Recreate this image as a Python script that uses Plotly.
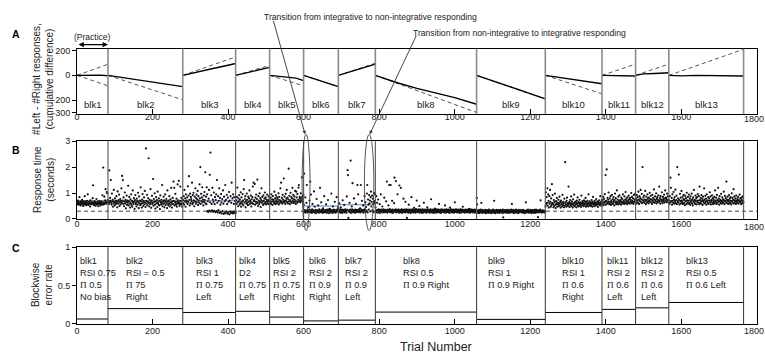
import numpy as np
import plotly.graph_objects as go

# ---------------- data ----------------
block_names = ["blk1", "blk2", "blk3", "blk4", "blk5", "blk6", "blk7",
               "blk8", "blk9", "blk10", "blk11", "blk12", "blk13"]
block_edges = [0, 82, 280, 420, 510, 600, 692, 790, 1058, 1240, 1390, 1479, 1567, 1765]
x_ticks = [0, 200, 400, 600, 800, 1000, 1200, 1400, 1600, 1800]

# Panel A: cumulative (#Left - #Right) within each block
cum_x = [[0, 20, 40, 60, 82], [82, 130, 180, 230, 280], [280, 320, 360, 400, 420],
         [420, 450, 480, 510], [510, 540, 560, 580, 600], [600, 630, 660, 692],
         [692, 740, 790], [790, 850, 900, 960, 1000, 1058], [1058, 1150, 1240],
         [1240, 1300, 1350, 1390], [1390, 1430, 1479], [1479, 1500, 1530, 1567],
         [1567, 1600, 1640, 1680, 1720, 1765]]
cum_y = [[0, 2, 3, 2, -3], [0, -22, -48, -72, -91], [0, 25, 55, 82, 96],
         [0, 22, 42, 64], [0, -8, -12, -22, -43], [0, -30, -62, -91],
         [0, 45, 91], [0, -62, -105, -150, -180, -234], [0, -95, -190],
         [0, -28, -48, -68], [0, -3, -5], [0, 12, 15, 21],
         [0, -4, 0, -3, -2, -5]]
# dashed reference lines: end value of each (start at 0)
ideal_end = [[90, -85], [-198], [149], [80], [-85], [-92], [98], [-300],
             [-190], [-149], [91], [91], [211]]

# Panel B: response times (centiseconds) per block
rt_blk1 = [62,58,71,55,66,60,84,57,63,52,68,59,61,74,56,64,50,69,58,63,88,55,60,67,53,62,70,57,95,61,
           54,66,59,63,48,72,58,61,56,65,60,80,130,57,62,53,68,59,64,51,60,77,58,63,55,66,49,61,59,70,
           56,62,52,64,58,67,60,91,55,198,63,57,86,61,72,115,66,59,104,62,99,73]
rt_blk2 = [72,65,58,187,66,81,70,150,62,55,98,68,74,47,60,112,66,52,79,63,
           57,70,88,61,45,106,68,59,73,94,50,64,77,56,69,118,62,166,71,150,
           58,83,49,67,102,60,74,41,66,90,55,71,63,128,52,68,85,59,44,76,
           61,95,53,70,47,110,64,58,80,66,39,73,92,57,62,48,78,69,55,101,
           65,42,87,60,71,53,122,58,67,44,75,96,61,50,69,83,56,108,63,46,
           272,70,59,93,52,66,80,234,61,48,74,57,115,64,43,71,89,58,62,154,
           51,77,66,99,55,40,68,84,60,73,46,105,63,57,79,52,70,38,91,65,
           56,74,61,131,49,67,58,86,72,45,63,95,54,69,77,60,42,110,66,53,
           71,59,88,48,64,76,55,120,62,44,68,81,57,144,70,120,52,65,97,61,
           54,78,47,66,133,59,72,147,63,50,58,125,69,56,81,60,47,73]
rt_blk3 = [73,60,88,55,112,68,79,47,95,64,71,83,58,126,66,90,165,74,52,98,
           61,85,77,69,140,57,92,63,101,72,49,86,67,118,59,80,94,65,76,108,
           54,88,71,62,133,79,200,58,97,69,83,122,64,75,52,90,66,104,73,180,
           60,86,57,122,95,30,68,27,78,112,32,170,64,256,29,91,58,33,120,75,
           28,66,102,31,57,84,26,73,95,30,150,62,25,88,34,70,118,23,81,55,
           27,96,64,21,77,30,110,59,19,86,24,68,131,22,74,28,93,57,20,82,
           25,66,104,18,71,29,88,23,62,140,26,79,21,95,27,58,84,22,69,30]
rt_blk4 = [24,72,58,85,121,64,49,79,68,92,55,74,61,103,47,83,66,58,96,71,
           52,115,150,63,77,88,45,69,59,98,74,62,53,86,67,79,110,57,71,64,
           90,48,76,61,84,125,58,140,69,73,135,55,82,66,94,60,77,152,63,50,
           88,71,57,99,65,80,46,73,118,62,85,68,54,91,70,59,78,102,64,83,
           56,75,67,94,61,72,58,87,69,76]
rt_blk5 = [71,63,82,58,95,67,76,54,88,69,74,61,105,66,79,57,91,72,64,83,
           60,77,68,99,56,85,73,62,118,70,140,65,81,59,93,74,67,156,63,86,
           71,58,97,69,78,112,64,82,60,75,194,68,89,57,73,101,66,84,62,79,
           120,70,93,61,76,87,65,108,72,58,105,83,67,96,63,74,121,131,69,85,
           78,64,99,71,82,160,75,88,66,92]
rt_blk6 = [55,175,27,34,83,24,31,62,131,29,36,25,45,32,28,71,35,144,26,94,
           30,23,37,58,27,33,29,106,25,47,31,35,22,30,77,28,34,26,52,32,
           24,37,29,120,31,26,64,35,28,33,23,41,36,27,88,30,25,34,29,56,
           33,24,36,28,73,31,22,35,39,27,37,25,32,98,29,34,23,48,31,26,
           36,28,66,33,24,31,27,84,35,29,38,45]
rt_blk7 = [34,26,60,29,37,24,45,31,27,36,23,72,33,28,35,54,25,30,37,27,
           32,24,87,35,188,169,4,29,33,62,26,36,225,23,31,48,37,138,27,34,
           25,79,32,28,36,24,58,30,35,27,131,33,95,26,37,29,34,41,25,131,
           31,36,70,28,33,52,24,35,30,88,37,64,27,46,32,98,131,25,75,55,
           36,92,60,71,29,84,105,48,66,90,33,78,58,26,100,62,69,95]
rt_blk8 = [45,33,88,26,62,35,24,75,31,37,28,57,23,34,95,30,36,27,48,32,
           25,37,29,82,33,26,35,28,68,31,144,24,36,29,52,34,131,27,38,30,
           131,25,33,28,70,36,23,31,29,61,159,34,27,37,146,25,32,29,95,35,
           28,36,24,129,31,34,26,120,30,37,23,33,29,35,78,27,32,36,25,66,
           33,29,37,4,26,34,30,24,55,36,28,32,35,23,31,84,27,37,29,33,
           25,36,43,30,27,34,24,38,31,71,28,35,26,33,29,37,50,24,32,30,
           36,27,34,23,31,37,28,25,62,33,30,36,26,29,35,24,32,45,37,28,
           31,26,35,33,24,30,37,76,28,34,25,32,36,29,23,33,30,40,27,35,
           24,31,37,28,34,26,30,36,58,25,33,29,35,23,31,37,27,32,35,30,
           28,34,25,36,52,32,24,30,37,27,33,29,35,26,31,36,23,44,34,30,
           37,27,31,25,35,32,28,36,24,30,64,33,27,37,29,34,25,31,36,28,
           33,26,35,23,30,37,29,32,25,36,28,47,31,34,27,35,24,30,33,29,
           36,31,25,34,28,32,37,26,30,39,24,35,29,33,27,36,31,25,30,34,
           28,32,36,24,31,27,35,30]
rt_blk9 = [81,56,29,24,34,27,22,33,30,25,36,28,62,31,23,35,27,26,33,29,
           24,32,27,35,22,30,28,34,25,31,29,23,36,30,26,33,28,31,22,29,
           25,34,27,30,36,24,70,28,33,22,31,27,26,35,29,32,24,28,34,30,
           23,27,35,29,26,33,28,31,22,36,6,27,25,30,34,28,32,24,29,27,
           35,25,30,28,23,34,29,27,33,24,31,36,28,58,26,30,35,27,22,29,
           28,33,25,31,36,27,24,32,30,28,22,35,29,26,27,34,30,33,28,25,
           31,27,35,24,29,33,28,22,31,30,64,27,25,34,29,28,36,24,30,32,
           27,25,30,35,28,22,31,34,27,33,24,30,28,35,23,29,27,36,25,31,
           33,28,7,30,25,34,27,29,36,72,28,32,24,30,27,33,29,26,28,31,29,24]
rt_blk10 = [48,103,56,84,62,118,51,95,70,44,88,59,112,66,47,79,53,134,61,92,
            57,45,73,50,66,98,54,42,69,58,81,47,63,55,74,49,60,86,52,67,
            44,71,57,62,48,93,53,66,59,45,78,51,219,64,56,47,70,82,53,60,
            49,125,58,65,46,73,54,61,87,50,68,57,44,76,59,52,94,63,48,67,
            55,62,45,71,58,83,51,66,48,60,74,53,57,64,46,90,61,52,69,56,
            63,49,72,58,54,67,81,47,60,65,53,70,57,48,95,62,55,68,50,59,
            64,52,73,58,47,66,85,55,61,49,70,57,63,51,77,60,54,68,58,46,
            65,59,72,53,61,88,57,66,50,74]
rt_blk11 = [58,72,64,85,53,77,61,96,68,169,55,70,191,63,81,59,74,102,66,57,
            79,62,88,54,71,65,93,58,76,60,84,69,52,73,98,63,80,57,67,110,
            61,75,56,86,70,64,91,59,73,68,55,82,66,77,60,95,63,71,58,87,
            65,74,104,60,78,69,57,83,64,72,90,62,76,59,81,67,73,100,61,85,
            70,63,79,58,92,66,75,97,71]
rt_blk12 = [66,78,59,92,71,84,63,105,74,58,88,69,80,112,65,76,97,61,200,72,
            83,67,90,62,75,108,70,57,86,73,64,95,79,68,60,82,71,101,66,77,
            89,63,74,58,93,70,81,65,114,76,62,87,72,68,99,60,78,84,66,73,
            91,64,125,70,80,59,88,75,67,103,72,61,85,77,69,94,63,79,110,71,
            82,65,76,98,68,87,73,62]
rt_blk13 = [72,58,88,64,159,120,67,81,55,95,70,62,104,76,59,84,68,113,61,73,
            90,57,200,66,79,63,171,74,56,97,69,82,60,108,71,65,86,58,77,93,
            62,75,53,89,68,80,57,101,72,64,85,59,70,94,61,78,55,87,66,73,
            98,60,76,52,83,67,112,63,74,58,90,69,79,56,84,65,96,71,62,88,
            57,125,73,64,81,59,92,68,77,54,86,70,63,118,75,60,89,66,78,55,
            95,67,72,61,84,58,79,70,103,64,87,56,74,69,91,62,80,57,76,66,
            85,60,110,71,65,82,58,93,73,63,120,68,78,55,88,67,74,61,97,70,
            59,83,66,76,62,105,72,57,89,68,80,64,144,75,60,86,69,73,58,92,
            65,78,61,84,70,56,99,67,81,63,74,115,60,87,72,66,79,58,90,69,
            62,77,71,85,59,73,66,94,64,80,68,57,76,83,61,70,88,65]
rt_blocks = [rt_blk1, rt_blk2, rt_blk3, rt_blk4, rt_blk5, rt_blk6, rt_blk7,
             rt_blk8, rt_blk9, rt_blk10, rt_blk11, rt_blk12, rt_blk13]
rt_mean = [0.69, 0.69, 0.70, 0.68, 0.67, 0.50, 0.55, 0.36, 0.31, 0.62, 0.66, 0.74, 0.71]
rt_floor = 0.3

# Panel C: blockwise error rate and conditions
err_rate = [0.065, 0.20, 0.15, 0.165, 0.09, 0.04, 0.05, 0.155, 0.06, 0.15, 0.19, 0.21, 0.28]
cond_rsi = ["RSI 0.75", "RSI = 0.5", "RSI 1", "D2", "RSI 2", "RSI 2", "RSI 2",
            "RSI 0.5", "RSI 1", "RSI 1", "RSI 2", "RSI 2", "RSI 0.5"]
cond_pi = ["0.5", "75", "0.75", "0.75", "0.75", "0.9", "0.9", "0.9", "0.9", "0.6", "0.6", "0.6", "0.6"]
cond_side = ["No bias", "Right", "Left", "Left", "Right", "Right", "Left",
             "Right", "Right", "Right", "Left", "Left", "Left"]
side_inline = [False, False, False, False, False, False, False, True, True, False, False, False, True]

ellipse_trials = [[596, 617], [761, 786]]
practice_end = 82

# ---------------- figure ----------------
FONT = "Liberation Sans, Arial, sans-serif"
H, W = 364.0, 765.0
L, R = 77.0, 8.0
X_MAX = 1800.5


def py(p):
    return 1 - p / H


def px(p):
    return (p - L) / (W - L - R)


fig = go.Figure()
nb = len(block_names)

# Panel A traces
for i in range(nb):
    x0, x1 = block_edges[i], block_edges[i + 1]
    for e in ideal_end[i]:
        fig.add_trace(go.Scatter(x=[x0, x1], y=[0, e], mode="lines",
                                 line=dict(color="#555555", width=1, dash="4px,3px"),
                                 xaxis="x", yaxis="y", hoverinfo="skip"))
    fig.add_trace(go.Scatter(x=cum_x[i], y=cum_y[i], mode="lines",
                             line=dict(color="black", width=1.4),
                             xaxis="x", yaxis="y", hoverinfo="skip"))

# Panel B traces
fig.add_trace(go.Scatter(x=[0, 1800], y=[rt_floor, rt_floor], mode="lines",
                         line=dict(color="#444444", width=1, dash="4px,3px"),
                         xaxis="x2", yaxis="y2", hoverinfo="skip"))
xs, ys = [], []
for i in range(nb):
    x0, x1 = block_edges[i], block_edges[i + 1]
    n = len(rt_blocks[i])
    step = (x1 - x0) / n
    xs.extend(list(x0 + (np.arange(n) + 0.5) * step))
    ys.extend([v / 100.0 for v in rt_blocks[i]])
mean_colors = ["#222222", "#222222"] + ["#5b7bd5"] * 10 + ["#555555"]
for i in range(nb):
    fig.add_trace(go.Scatter(x=[block_edges[i], block_edges[i + 1]], y=[rt_mean[i]] * 2,
                             mode="lines", line=dict(color=mean_colors[i], width=1.1),
                             xaxis="x2", yaxis="y2", hoverinfo="skip"))
fig.add_trace(go.Scatter(x=xs, y=ys, mode="markers",
                         marker=dict(color="#111111", size=2.2, line=dict(width=0)),
                         xaxis="x2", yaxis="y2", hoverinfo="skip"))

# Panel C traces
for i in range(nb):
    fig.add_trace(go.Scatter(x=[block_edges[i], block_edges[i + 1]], y=[err_rate[i]] * 2,
                             mode="lines", line=dict(color="black", width=1),
                             xaxis="x3", yaxis="y3", hoverinfo="skip"))

# block dividers
shapes = []
for e in block_edges[1:]:
    shapes.append(dict(type="line", xref="x", yref="y domain", x0=e, x1=e, y0=0, y1=1,
                       line=dict(color="#8a8a8a", width=1.6)))
    shapes.append(dict(type="line", xref="x2", yref="y2 domain", x0=e, x1=e, y0=0, y1=1,
                       line=dict(color="#555555", width=1.1)))
    shapes.append(dict(type="line", xref="x3", yref="y3 domain", x0=e, x1=e, y0=0, y1=1,
                       line=dict(color="#333333", width=1)))
# ellipses
for a, b in ellipse_trials:
    shapes.append(dict(type="circle", xref="x2", yref="paper", x0=a, x1=b,
                       y0=py(232), y1=py(133), line=dict(color="#444444", width=0.9)))

annotations = []


def ann(**kw):
    kw.setdefault("xanchor", "center")
    kw.setdefault("yanchor", "middle")
    annotations.append(kw)


# block labels in panel A
for i in range(nb):
    ann(x=(block_edges[i] + block_edges[i + 1]) / 2, y=-232, xref="x", yref="y",
        text=block_names[i], showarrow=False, font=dict(size=9.5, color="#222"))
# condition texts in panel C
PI = '<span style="font-family:Liberation Serif">\u03a0</span>'
for i in range(nb):
    if side_inline[i]:
        txt = f"{block_names[i]}<br>{cond_rsi[i]}<br>{PI} {cond_pi[i]} {cond_side[i]}"
    else:
        txt = f"{block_names[i]}<br>{cond_rsi[i]}<br>{PI} {cond_pi[i]}<br>{cond_side[i]}"
    if i == 0:
        xa, xx = "left", block_edges[0] + 3
    else:
        xa, xx = "center", (block_edges[i] + block_edges[i + 1]) / 2
    ann(x=xx, y=0.905, xref="x3", yref="y3", text=txt, showarrow=False,
        xanchor=xa, yanchor="top", align="left", font=dict(size=9.2, color="#222"))

# last x tick label of each panel (kept just inside the page edge)
for xr, yy in [("x", 117.5), ("x2", 228), ("x3", 335)]:
    ann(x=x_ticks[-1], y=py(yy), xref=xr, yref="paper", text=str(x_ticks[-1]),
        showarrow=False, xshift=-3, font=dict(size=9, color="#222"))

# panel letters
for lab, yy in [("A", 30), ("B", 149), ("C", 250)]:
    ann(x=px(16), y=py(yy), xref="paper", yref="paper", text=f"<b>{lab}</b>",
        showarrow=False, font=dict(size=10.5, color="black"))
# y-axis titles
for txt, xx, yy in [("#Left - #Right responses,<br>(cumulative difference)", 43, 76),
                    ("Response time<br>(seconds)", 44, 180),
                    ("Blockwise<br>error rate", 42, 288)]:
    ann(x=px(xx), y=py(yy), xref="paper", yref="paper", text=txt,
        showarrow=False, textangle=-90, font=dict(size=10, color="#222"))
# x title
ann(x=px(436), y=py(352), xref="paper", yref="paper", text="Trial Number",
    showarrow=False, font=dict(size=12.5, color="#222"))
# practice
ann(x=px(92), y=py(33), xref="paper", yref="paper", text="(Practice)",
    showarrow=False, font=dict(size=8.5, color="#222"))
ann(x=practice_end, y=py(40.7), xref="x", yref="paper",
    ax=0, ay=0, axref="x", ayref="pixel", text="", showarrow=True,
    arrowhead=2, startarrowhead=2, arrowside="end+start",
    arrowsize=0.9, arrowwidth=1.2, arrowcolor="black")
# transitions
ann(x=px(370), y=py(12.5), xref="paper", yref="paper",
    text="Transition from integrative to non-integrative responding",
    showarrow=False, font=dict(size=8.6, color="#222"))
ann(x=px(519), y=py(28.5), xref="paper", yref="paper",
    text="Transition from non-integrative to integrative responding",
    showarrow=False, font=dict(size=8.6, color="#222"))
ann(x=604, y=py(133), xref="x2", yref="paper",
    ax=519, ay=18 - 133, axref="x2", ayref="pixel", text="",
    showarrow=True, arrowhead=2, arrowsize=0.8, arrowwidth=0.9, arrowcolor="#333")
ann(x=775, y=py(133), xref="x2", yref="paper",
    ax=900, ay=33 - 133, axref="x2", ayref="pixel", text="",
    showarrow=True, arrowhead=2, arrowsize=0.8, arrowwidth=0.9, arrowcolor="#333")

tickfont = dict(size=9, color="#222", family=FONT)
xcommon = dict(range=[0, X_MAX], tickvals=x_ticks[:-1], showline=True, mirror=True,
               linecolor="black", linewidth=1, showgrid=False, zeroline=False,
               tickfont=tickfont, domain=[0, 1])
ycommon = dict(showline=True, mirror=True, linecolor="black", linewidth=1, showgrid=False,
               zeroline=False, tickfont=tickfont, ticks="outside", ticklen=4, tickcolor="black")

fig.update_layout(
    width=765, height=364, margin=dict(l=L, r=R, t=0, b=0),
    paper_bgcolor="white", plot_bgcolor="white", showlegend=False,
    font=dict(family=FONT, size=9, color="#222"),
    xaxis=dict(**xcommon, anchor="y", ticks="inside", ticklen=5, tickcolor="black",
               ticklabelstandoff=-6),
    yaxis=dict(**ycommon, domain=[py(112), py(45)], range=[-312, 215],
               tickvals=[200, 0, -200, -300], anchor="x"),
    xaxis2=dict(**xcommon, anchor="y2", ticks="", ticklabelstandoff=-4),
    yaxis2=dict(**ycommon, domain=[py(220), py(140)], range=[0, 3],
                tickvals=[0, 1, 2, 3], anchor="x2"),
    xaxis3=dict(**xcommon, anchor="y3", ticks="inside", ticklen=5, tickcolor="black",
                ticklabelstandoff=-2),
    yaxis3=dict(**ycommon, domain=[py(328), py(249)], range=[0, 1],
                tickvals=[0, 0.5, 1], ticktext=["0", "0.5", "1"], anchor="x3"),
    shapes=shapes, annotations=annotations,
)

fig.write_html("out.html")
